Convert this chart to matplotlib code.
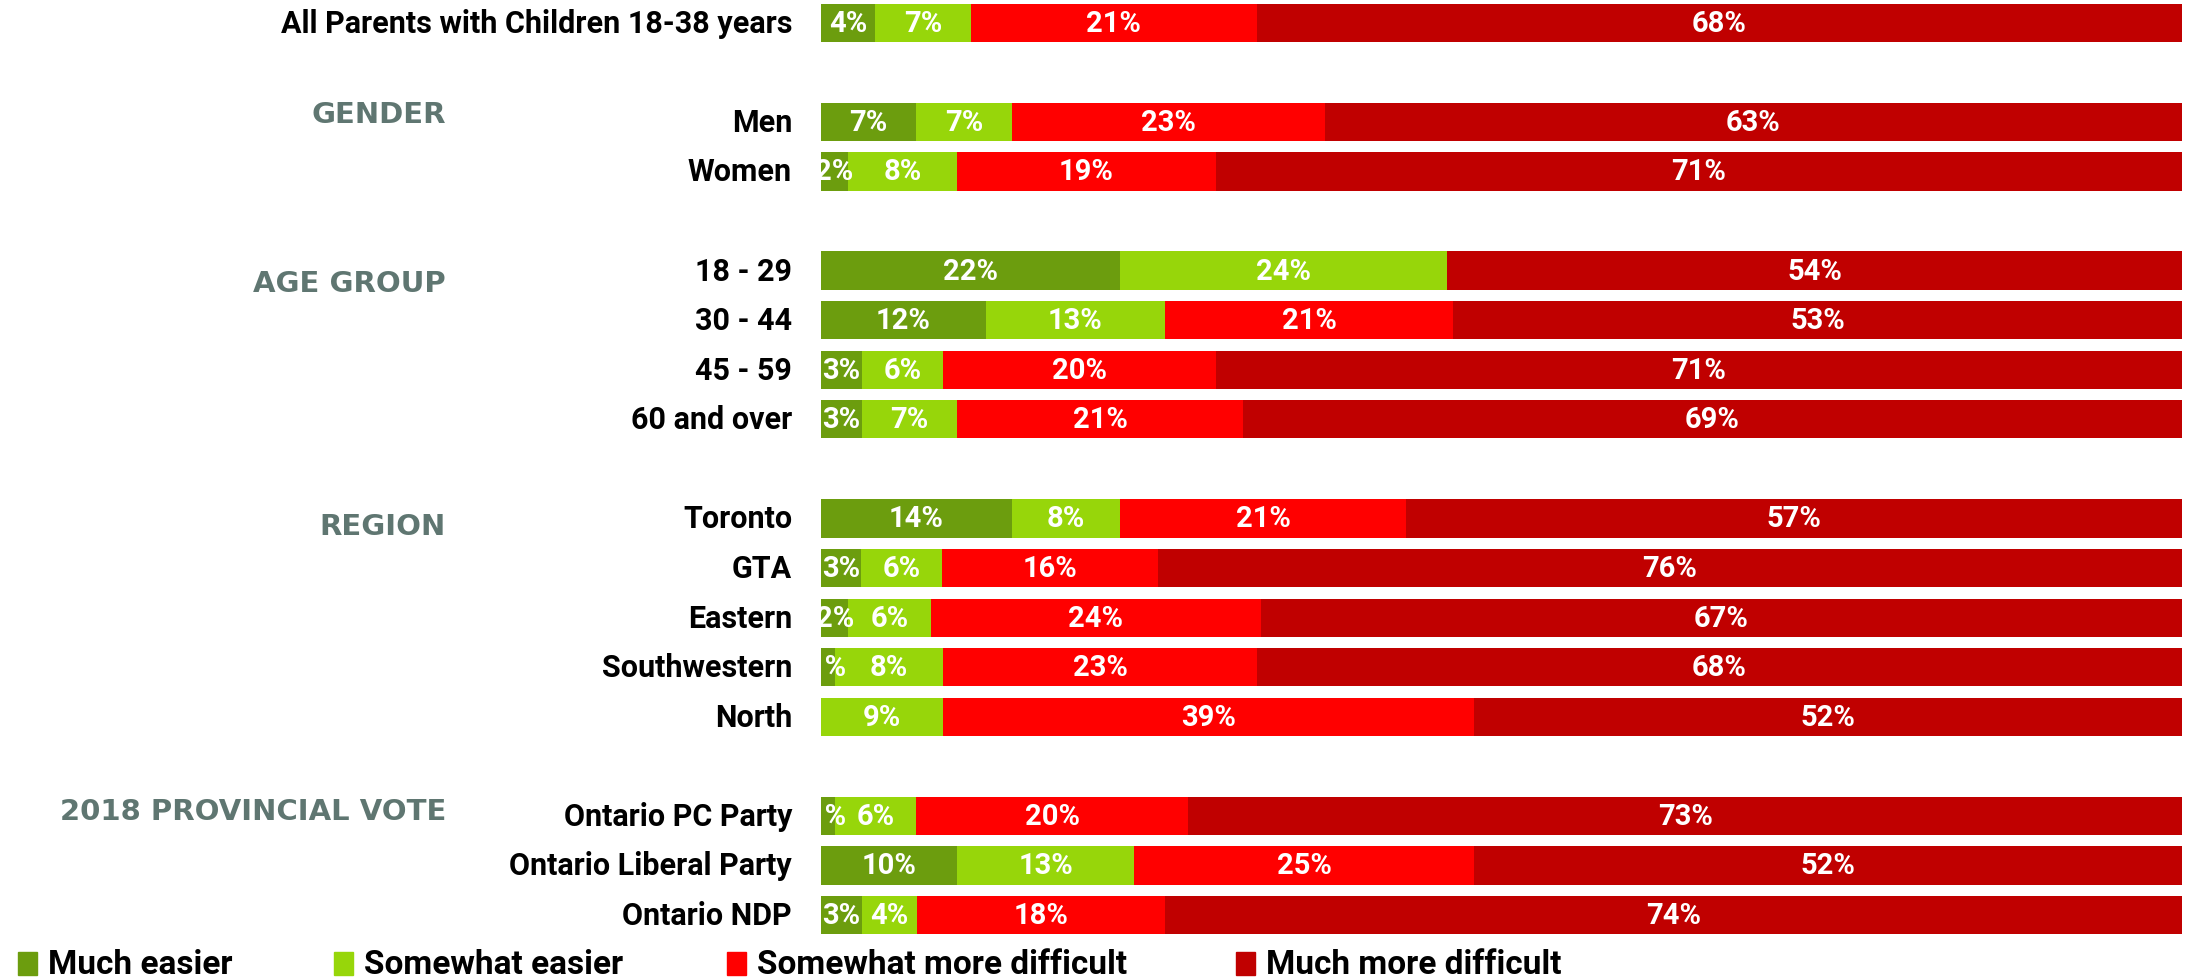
import matplotlib.pyplot as plt
from matplotlib.patches import Rectangle
from matplotlib.transforms import blended_transform_factory
import numpy as np

# rows (None = blank spacer row)
categories = [
    "All Parents with Children 18-38 years", None,
    "Men", "Women", None,
    "18 - 29", "30 - 44", "45 - 59", "60 and over", None,
    "Toronto", "GTA", "Eastern", "Southwestern", "North", None,
    "Ontario PC Party", "Ontario Liberal Party", "Ontario NDP",
]
much_easier =      [4, None, 7, 2, None, 22, 12, 3, 3, None, 14, 3, 2, 1, 0, None, 1, 10, 3]
somewhat_easier =  [7, None, 7, 8, None, 24, 13, 6, 7, None, 8, 6, 6, 8, 9, None, 6, 13, 4]
somewhat_harder =  [21, None, 23, 19, None, 0, 21, 20, 21, None, 21, 16, 24, 23, 39, None, 20, 25, 18]
much_harder =      [68, None, 63, 71, None, 54, 53, 71, 69, None, 57, 76, 67, 68, 52, None, 73, 52, 74]

series_names = ["Much easier", "Somewhat easier", "Somewhat more difficult", "Much more difficult"]
colors = ["#6c9d0e", "#97d60a", "#ff0000", "#c00000"]

groups = ["GENDER", "AGE GROUP", "REGION", "2018 PROVINCIAL VOTE"]
group_rows = [1.85, 5.25, 10.15, 15.9]

label_font = ["Roboto", "DejaVu Sans"]
header_font = ["DejaVu Sans"]
value_font = ["Roboto", "DejaVu Sans"]

fig = plt.figure(figsize=(21.86, 9.79), dpi=100)
ax = fig.add_axes([821 / 2186, 0, (2182 - 821) / 2186, 1])
ax.set_xlim(0, 100)
ax.set_ylim(19.27, -0.478)
ax.axis("off")

data = [much_easier, somewhat_easier, somewhat_harder, much_harder]
for i, name in enumerate(categories):
    if name is None:
        continue
    vals = np.array([s[i] for s in data], dtype=float)
    widths = vals / vals.sum() * 100  # bars span the full width
    left = 0
    for w, v, c in zip(widths, vals, colors):
        if v > 0:
            ax.barh(i, w, left=left, height=0.77, color=c, edgecolor="none")
            ax.text(left + w / 2, i, f"{int(v)}%", ha="center", va="center",
                    color="white", fontsize=21, fontweight="bold",
                    family=value_font, clip_on=True)
        left += w

trans = blended_transform_factory(ax.transAxes, ax.transData)
for i, name in enumerate(categories):
    if name is None:
        continue
    ax.text(-0.0213, i, name, transform=trans, ha="right", va="center",
            fontsize=22, fontweight="bold", family=label_font, color="black")

for g, r in zip(groups, group_rows):
    ax.text(-0.2755, r, g, transform=trans, ha="right", va="center",
            fontsize=21, fontweight="bold", family=header_font,
            color="#5f7671")

# legend along the bottom
leg_x = [18, 334, 727, 1236]
for x, name, c in zip(leg_x, series_names, colors):
    fig.patches.append(Rectangle((x / 2186, 1 - 976 / 979), 19 / 2186, 23 / 979,
                                 transform=fig.transFigure, color=c))
    fig.text((x + 30) / 2186, 1 - 965 / 979, name, ha="left", va="center",
             fontsize=24, fontweight="bold", family=label_font)

fig.savefig("out.png", dpi=100)
